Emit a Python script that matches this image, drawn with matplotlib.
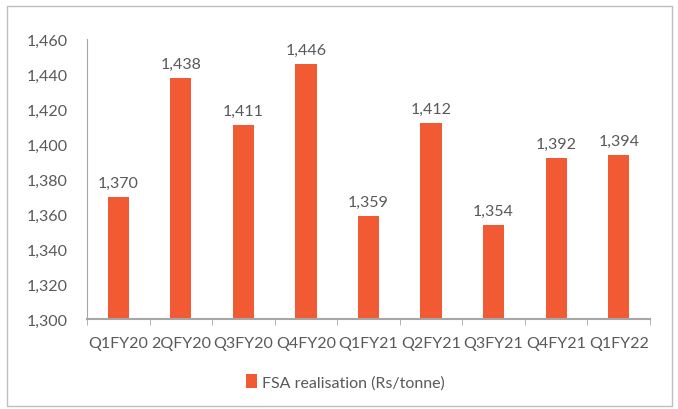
import matplotlib.pyplot as plt
from matplotlib.patches import Rectangle
import numpy as np

quarters = ['Q1FY20', '2QFY20', 'Q3FY20', 'Q4FY20', 'Q1FY21', 'Q2FY21', 'Q3FY21', 'Q4FY21', 'Q1FY22']
realisation = [1370, 1438, 1411, 1446, 1359, 1412, 1354, 1392, 1394]

bar_color = '#F15A32'
text_color = '#595959'
plt.rcParams['font.family'] = ['Lato', 'DejaVu Sans']

fig = plt.figure(figsize=(6.78, 4.10), dpi=100)
ax = fig.add_axes([87 / 678, 1 - 320 / 410, (650 - 87) / 678, (320 - 40) / 410])

x = np.arange(len(quarters))
bars = ax.bar(x, realisation, width=0.34, color=bar_color, label='FSA realisation (Rs/tonne)')
for xi, v in zip(x, realisation):
    ax.text(xi, v + 4, f'{v:,}', ha='center', va='bottom', fontsize=11.5, color=text_color)

ax.set_ylim(1300, 1460)
ax.set_xlim(-0.5, len(quarters) - 0.5)
ax.set_yticks(range(1300, 1461, 20))
ax.set_yticklabels([f'{v:,}' for v in range(1300, 1461, 20)])
ax.set_xticks(x)
ax.set_xticklabels(quarters)
ax.set_xticks(np.arange(-0.5, len(quarters), 1), minor=True)
ax.tick_params(axis='x', which='major', length=0, pad=12, labelsize=11.5, colors=text_color)
ax.tick_params(axis='x', which='minor', length=4, color='#A6A6A6')
ax.tick_params(axis='y', length=0, pad=14, labelsize=11.5, colors=text_color)

for s in ['top', 'right']:
    ax.spines[s].set_visible(False)
ax.spines['left'].set_color('#A6A6A6')
ax.spines['bottom'].set_color('#A6A6A6')
ax.spines['bottom'].set_linewidth(1.5)

fig.legend(loc='center', bbox_to_anchor=(345 / 678, 1 - 383 / 410), frameon=False,
           fontsize=11.5, handlelength=0.7, handleheight=0.9, handletextpad=0.3,
           labelcolor=text_color)

# outer border of the chart area
fig.patches.append(Rectangle((7 / 678, 3 / 410), 665 / 678, 400 / 410, transform=fig.transFigure,
                             fill=False, edgecolor='#BFBFBF', linewidth=1))

fig.savefig('out.png', dpi=100)
